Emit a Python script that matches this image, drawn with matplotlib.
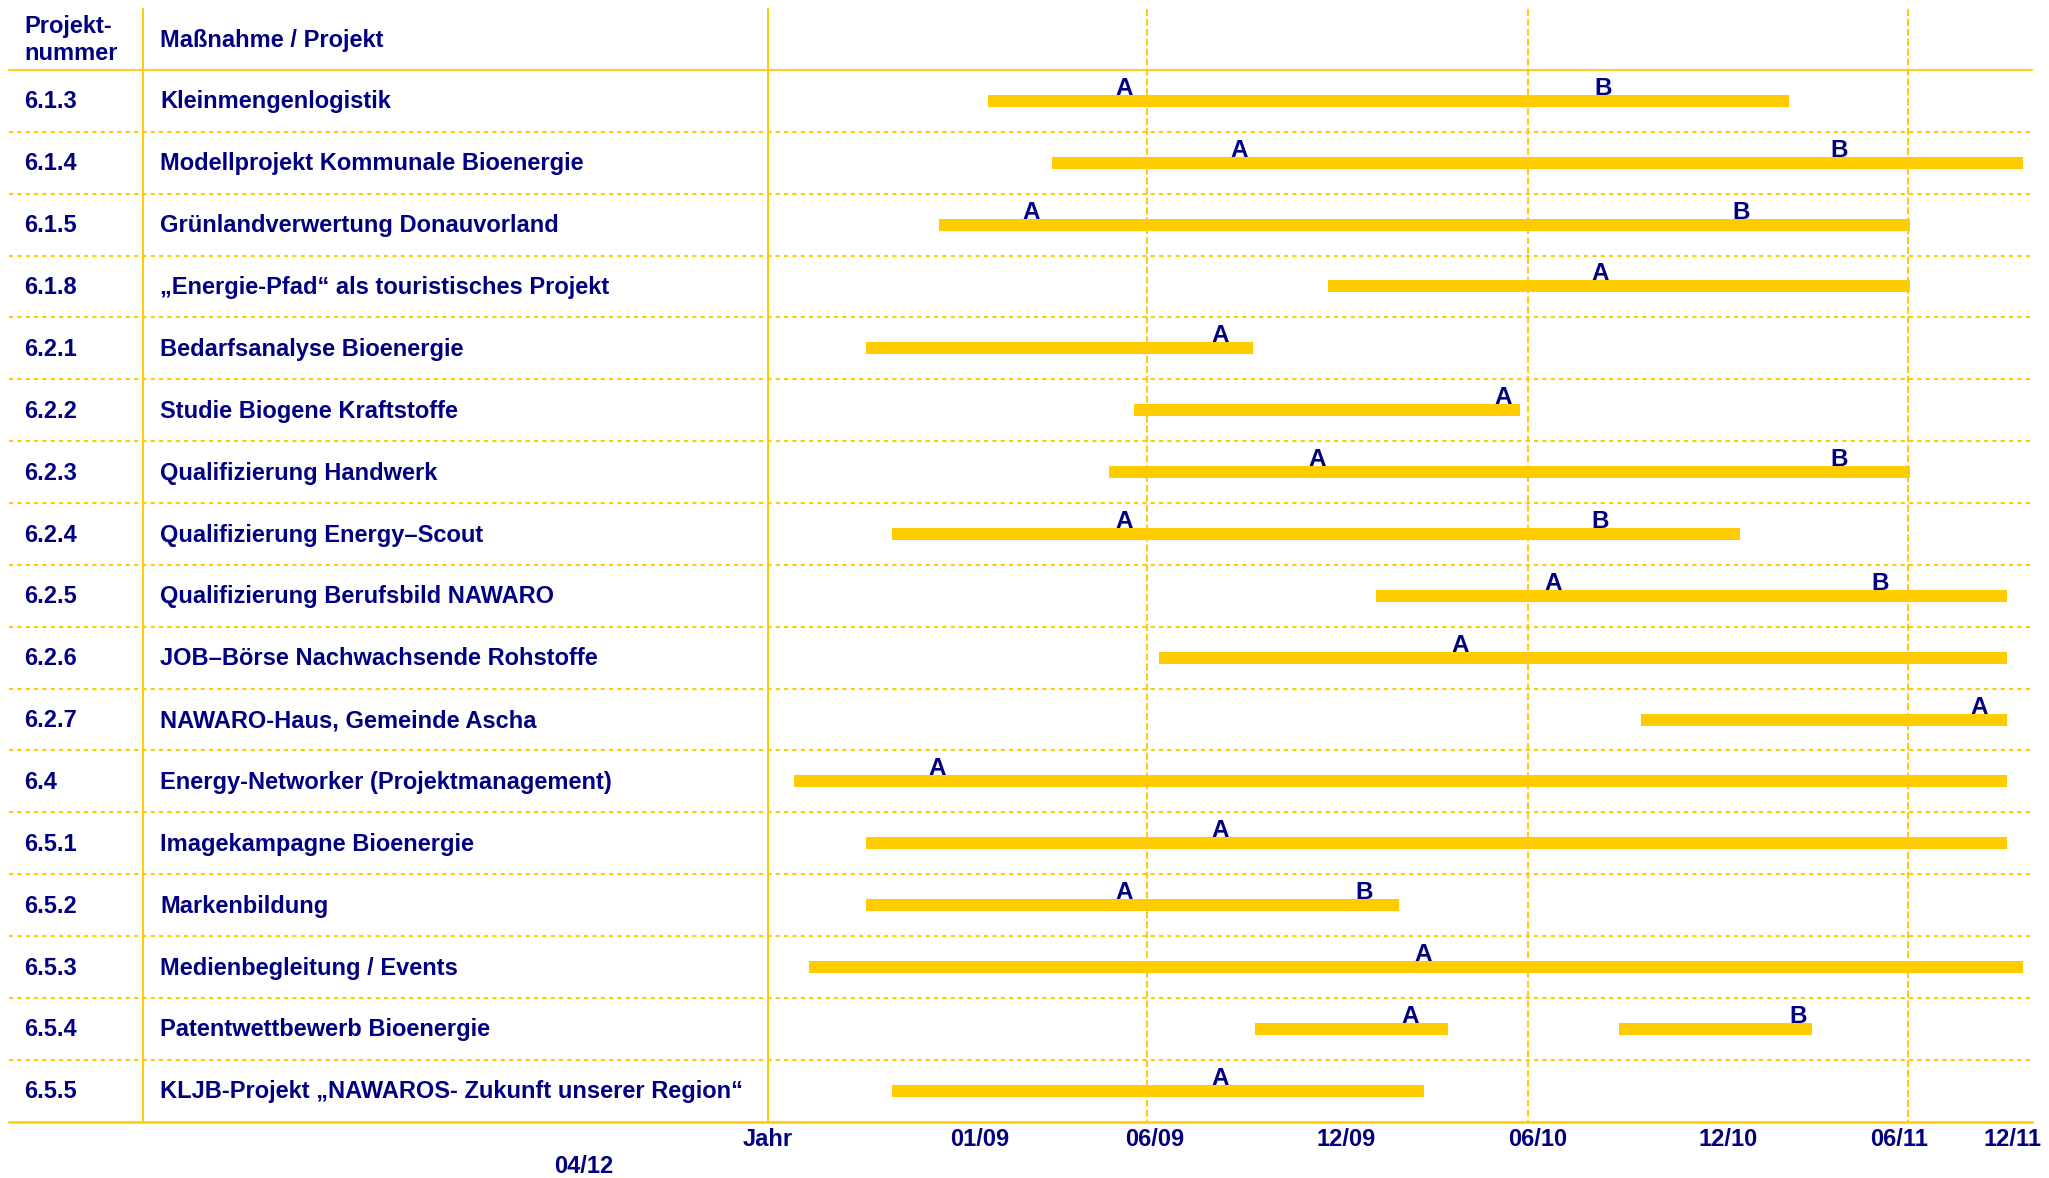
import matplotlib.pyplot as plt
import matplotlib.transforms as mtransforms

# Zeit in Monaten ab 01/2009 (0 = Jan 2009)
numbers = ["6.1.3", "6.1.4", "6.1.5", "6.1.8", "6.2.1", "6.2.2", "6.2.3", "6.2.4",
           "6.2.5", "6.2.6", "6.2.7", "6.4", "6.5.1", "6.5.2", "6.5.3", "6.5.4", "6.5.5"]
names = [
    "Kleinmengenlogistik",
    "Modellprojekt Kommunale Bioenergie",
    "Grünlandverwertung Donauvorland",
    "\u201eEnergie-Pfad\u201c als touristisches Projekt",
    "Bedarfsanalyse Bioenergie",
    "Studie Biogene Kraftstoffe",
    "Qualifizierung Handwerk",
    "Qualifizierung Energy\u2013Scout",
    "Qualifizierung Berufsbild NAWARO",
    "JOB\u2013Börse Nachwachsende Rohstoffe",
    "NAWARO-Haus, Gemeinde Ascha",
    "Energy-Networker (Projektmanagement)",
    "Imagekampagne Bioenergie",
    "Markenbildung",
    "Medienbegleitung / Events",
    "Patentwettbewerb Bioenergie",
    "KLJB-Projekt \u201eNAWAROS- Zukunft unserer Region\u201c",
]

# Balken: Zeile, Beginn, Ende
bar_rows = [0, 1, 2, 3, 4, 5, 6, 7, 8, 9, 10, 11, 12, 13, 14, 15, 15, 16]
bar_start = [-0.05, 1.98, -1.59, 10.71, -3.87, 4.56, 3.77, -3.08, 12.2, 5.35, 20.57,
             -6.15, -3.87, -3.87, -5.7, 8.38, 19.88, -3.08]
bar_end = [25.24, 32.63, 29.06, 29.06, 8.33, 16.76, 29.06, 23.7, 32.13, 32.13, 32.13,
           32.13, 32.13, 12.94, 32.63, 14.48, 25.99, 13.74]

# Meilensteine A / B
mark_rows = [0, 0, 1, 1, 2, 2, 3, 4, 5, 6, 6, 7, 7, 8, 8, 9, 10, 11, 12, 13, 13,
             14, 15, 15, 16]
mark_pos = [4.26, 19.39, 7.88, 26.83, 1.34, 23.75, 19.29, 7.29, 16.22, 10.36, 26.83,
            4.26, 19.29, 17.8, 28.12, 14.88, 31.24, -1.64, 7.29, 4.26, 11.85,
            13.69, 13.29, 25.54, 7.29]
mark_text = ["A", "B", "A", "B", "A", "B", "A", "A", "A", "A", "B", "A", "B", "A", "B",
             "A", "A", "A", "A", "A", "B", "A", "A", "B", "A"]

tick_pos = [-7.0, -0.29, 5.24, 11.27, 17.32, 23.34, 28.71, 32.29]
tick_text = ["Jahr", "01/09", "06/09", "12/09", "06/10", "12/10", "06/11", "12/11"]
grid_months = [5, 17, 29]

YELLOW = "#FFCC00"
NAVY = "#000080"
plt.rcParams['font.family'] = ['Liberation Sans', 'DejaVu Sans']
plt.rcParams['font.weight'] = 'bold'

fig = plt.figure(figsize=(20.49, 11.78), dpi=100)
ax = fig.add_axes([0.3748, 0.0478, 0.6169, 0.9446])
n = len(names)
top = -0.986
ax.set_xlim(-6.98, 32.92)
ax.set_ylim(n, top)
ax.axis('off')

fig_y = mtransforms.blended_transform_factory(fig.transFigure, ax.transData)
data_x = mtransforms.blended_transform_factory(ax.transData, fig.transFigure)

# Tabellenlinien
ax.plot([0.0044, 0.9917], [0, 0], color=YELLOW, lw=1.3, transform=fig_y, clip_on=False)
for i in range(1, n):
    ax.plot([0.0044, 0.9917], [i, i], color=YELLOW, lw=1.5, linestyle=(0, (2, 2)),
            transform=fig_y, clip_on=False)
ax.plot([0.0044, 0.9917], [n, n], color=YELLOW, lw=1.8, transform=fig_y, clip_on=False)
for xs in [0.0698, 0.3748]:
    ax.plot([xs, xs], [top, n], color=YELLOW, lw=1.4, transform=fig_y, clip_on=False)
for m in grid_months:
    ax.plot([m, m], [top, n], color=YELLOW, lw=1.4, linestyle=(0, (3.6, 1.5)))

# Balken
for r, s, e in zip(bar_rows, bar_start, bar_end):
    ax.barh(r + 0.5, e - s, left=s, height=0.194, color=YELLOW, zorder=3)

for r, p, t in zip(mark_rows, mark_pos, mark_text):
    ax.text(p, r + 0.5 - 0.097, t, ha='center', va='baseline', fontsize=17.5,
            color=NAVY, fontweight='bold', zorder=4)

# Kopfzeile und Zeilentexte
ax.text(0.0117, -0.598, "Projekt-", transform=fig_y, fontsize=17, color=NAVY,
        va='baseline', ha='left')
ax.text(0.0117, -0.162, "nummer", transform=fig_y, fontsize=17, color=NAVY,
        va='baseline', ha='left')
ax.text(0.0781, -0.372, "Maßnahme / Projekt", transform=fig_y, fontsize=17,
        color=NAVY, va='baseline', ha='left')
for i, (num, name) in enumerate(zip(numbers, names)):
    ax.text(0.0117, i + 0.622, num, transform=fig_y, fontsize=17, color=NAVY,
            va='baseline', ha='left')
    ax.text(0.0781, i + 0.622, name, transform=fig_y, fontsize=17, color=NAVY,
            va='baseline', ha='left')

# Zeitachse
for p, t in zip(tick_pos, tick_text):
    ax.text(p, 0.0272, t, transform=data_x, ha='center', va='baseline',
            fontsize=17, color=NAVY, clip_on=False)
ax.text(-12.79, 0.0042, "04/12", transform=data_x, ha='center', va='baseline',
        fontsize=17, color=NAVY, clip_on=False)

fig.savefig("out.png", dpi=100)
